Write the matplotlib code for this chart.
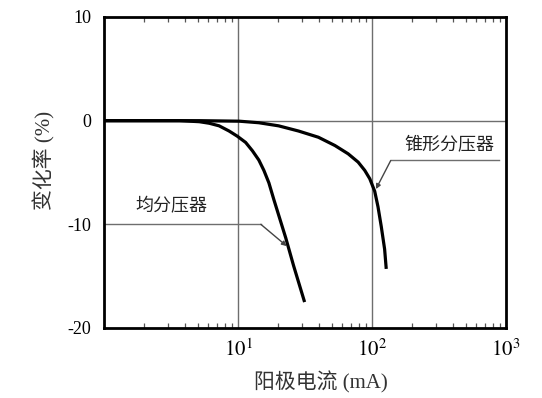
import matplotlib
matplotlib.use("Agg")
from matplotlib import pyplot as plt
from matplotlib.ticker import LogLocator, NullFormatter, FixedLocator

plt.rcParams['font.family'] = ['Liberation Serif', 'Noto Sans CJK SC']
plt.rcParams['mathtext.fontset'] = 'stix'

# uniform divider (均分压器)
c1_x = [1, 3.66, 5.14, 6.1, 7.23, 8.58, 9.88, 11.4, 12.8, 14.3, 15.6, 17.0,
        18.5, 20.1, 22.7, 26.0, 31.4]
c1_y = [0, 0, -0.1, -0.25, -0.5, -1.0, -1.5, -2.1, -2.9, -3.8, -4.8, -6.0,
        -7.6, -9.1, -11.3, -14.0, -17.5]

# tapered divider (锥形分压器)
c2_x = [1, 5.1, 10.2, 14.3, 20.1, 28.3, 39.8, 52.9, 66.4, 78.8, 88.3, 96.2,
        104.7, 110.8, 117.2, 124.2, 127.7]
c2_y = [0, 0, -0.05, -0.2, -0.5, -1.0, -1.6, -2.4, -3.2, -4.0, -4.8, -5.6,
        -6.8, -8.3, -10.2, -12.4, -14.3]

labels = ['均分压器', '锥形分压器']
x_major = [10, 100, 1000]
x_major_labels = [r'$10^1$', r'$10^2$', r'$10^3$']
y_ticks = [10, 0, -10, -20]

fig = plt.figure(figsize=(5.42, 3.98), dpi=100)
ax = fig.add_axes([0.1919, 0.1759, 0.7417, 0.7814])

ax.set_xscale('log')
ax.set_xlim(1, 1000)
ax.set_ylim(-20, 10)

grey = '#6e6e6e'
ax.axhline(0, color=grey, lw=1.0, zorder=1)
for xv in (10, 100):
    ax.axvline(xv, color=grey, lw=1.0, zorder=1)

ax.plot(c1_x, c1_y, color='black', lw=2.3, solid_capstyle='butt',
        solid_joinstyle='round', zorder=3)
ax.plot(c2_x, c2_y, color='black', lw=2.3, solid_capstyle='butt',
        solid_joinstyle='round', zorder=3)

# leader lines
ax.plot([1.0, 14.8], [-10.0, -10.0], color=grey, lw=1.0, zorder=2)
ax.annotate('', xy=(23.1, -12.1), xytext=(14.8, -10.0),
            arrowprops=dict(arrowstyle='-|>', color='#444444', lw=1.0,
                            mutation_scale=7, shrinkA=0, shrinkB=0))
ax.text(3.19, -8.3, labels[0], ha='center', va='center', fontsize=13,
        family=['Noto Sans CJK SC'], color='#222222')

ax.plot([138, 890], [-3.84, -3.84], color=grey, lw=1.0, zorder=2)
ax.annotate('', xy=(107, -6.6), xytext=(138, -3.84),
            arrowprops=dict(arrowstyle='-|>', color='#444444', lw=1.0,
                            mutation_scale=7, shrinkA=0, shrinkB=0))
ax.text(378, -2.3, labels[1], ha='center', va='center', fontsize=13,
        family=['Noto Sans CJK SC'], color='#222222')

# ticks
ax.xaxis.set_major_locator(FixedLocator(x_major))
ax.set_xticklabels(x_major_labels, fontsize=15)
ax.xaxis.set_minor_locator(LogLocator(base=10, subs=range(2, 10)))
ax.xaxis.set_minor_formatter(NullFormatter())
ax.tick_params(axis='x', which='major', length=0, pad=8)
ax.tick_params(axis='x', which='minor', direction='in', length=3.5,
               width=0.9, top=True, bottom=True, color='#555555')
ax.set_yticks(y_ticks)
ax.set_yticklabels([str(v) for v in y_ticks], fontsize=13)
ax.tick_params(axis='y', length=0, pad=9)

for s in ax.spines.values():
    s.set_linewidth(2.0)
    s.set_zorder(4)

ax.set_xlabel('阳极电流 (mA)', fontsize=15, color='#333333')
ax.xaxis.set_label_coords(0.54, -0.14)
ax.set_ylabel('变化率 (%)', fontsize=15, color='#333333')
ax.yaxis.set_label_coords(-0.12, 0.54)

fig.savefig('out.png', dpi=100)
